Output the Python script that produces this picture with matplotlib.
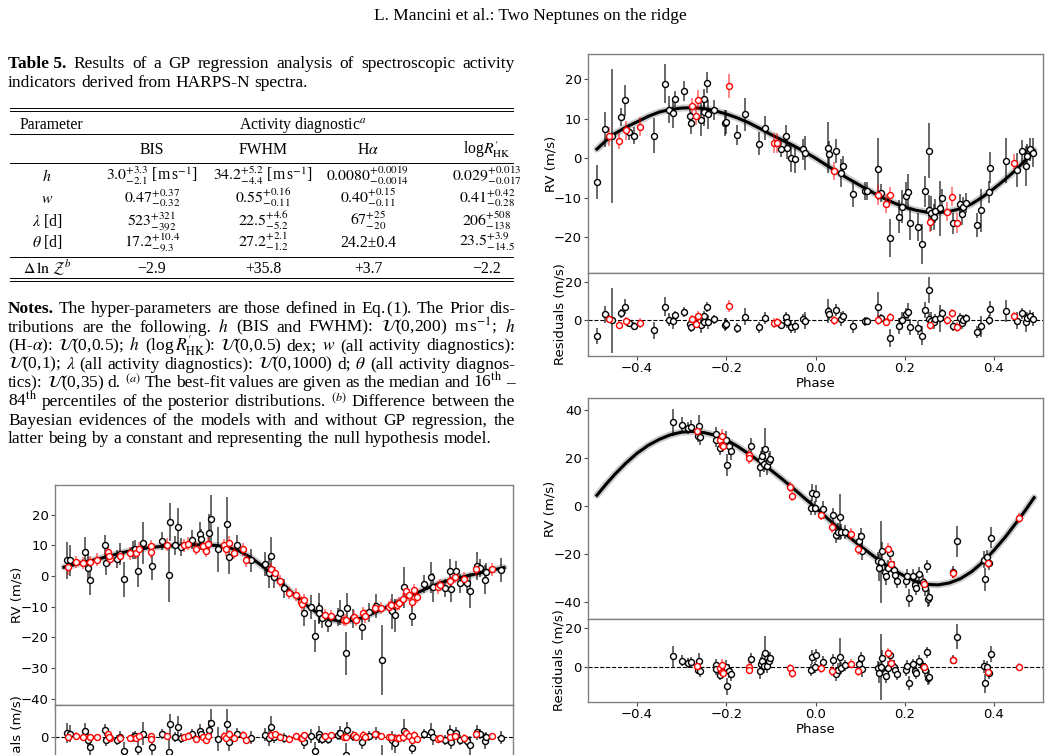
import matplotlib
matplotlib.use("Agg")
import matplotlib.pyplot as plt
from matplotlib.lines import Line2D

plt.rcParams['font.family'] = ['DejaVu Sans']
plt.rcParams['mathtext.fontset'] = 'stix'

# ---------------- page text ----------------
header = "L. Mancini et al.: Two Neptunes on the ridge"
caption_1 = [("Table 5.", "bold"), "Results", "of", "a", "GP", "regression", "analysis", "of",
             "spectroscopic", "activity"]
caption_2 = "indicators derived from HARPS-N spectra."

table_cols = ["BIS", "FWHM", r"H$\alpha$", r"log$R^{\prime}_{\rm HK}$"]
row_labels = [r"$h$", r"$w$", r"$\lambda$ [d]", r"$\theta$ [d]"]
row_h = [r"$3.0^{+3.3}_{-2.1}$ [m$\,$s$^{-1}$]", r"$34.2^{+5.2}_{-4.4}$ [m$\,$s$^{-1}$]",
         r"$0.0080^{+0.0019}_{-0.0014}$", r"$0.029^{+0.013}_{-0.017}$"]
row_w = [r"$0.47^{+0.37}_{-0.32}$", r"$0.55^{+0.16}_{-0.11}$",
         r"$0.40^{+0.15}_{-0.11}$", r"$0.41^{+0.42}_{-0.28}$"]
row_lam = [r"$523^{+321}_{-392}$", r"$22.5^{+4.6}_{-5.2}$",
           r"$67^{+25}_{-20}$", r"$206^{+508}_{-138}$"]
row_theta = [r"$17.2^{+10.4}_{-9.3}$", r"$27.2^{+2.1}_{-1.2}$",
             "24.2±0.4", r"$23.5^{+3.9}_{-14.5}$"]
row_dlnz = ["−2.9", "+35.8", "+3.7", "−2.2"]

notes = [
    [("Notes.", "bold"), "The", "hyper-parameters", "are", "those", "defined", "in", "Eq.$\\,$(1).",
     "The", "Prior", "dis-"],
    ["tributions", "are", "the", "following.", "$h$", "(BIS", "and", "FWHM):",
     r"$\mathcal{U}$(0,200)", r"m$\,$s$^{-1}$;", "$h$"],
    [r"(H-$\alpha$):", r"$\mathcal{U}$(0,0.5);", "$h$", r"(log$\,R^{\prime}_{\rm HK}$):",
     r"$\mathcal{U}$(0,0.5)", "dex;", "$w$", "(all", "activity", "diagnostics):"],
    [r"$\mathcal{U}$(0,1);", r"$\lambda$", "(all", "activity", "diagnostics):",
     r"$\mathcal{U}$(0,1000)", "d;", r"$\theta$", "(all", "activity", "diagnos-"],
    ["tics):", r"$\mathcal{U}$(0,35)", "d.", r"$^{(a)}$", "The", "best-fit", "values", "are",
     "given", "as", "the", "median", "and", r"16$^{\rm th}$", "–"],
    [r"84$^{\rm th}$", "percentiles", "of", "the", "posterior", "distributions.", r"$^{(b)}$",
     "Difference", "between", "the"],
    ["Bayesian", "evidences", "of", "the", "models", "with", "and", "without", "GP",
     "regression,", "the"],
    ["latter", "being", "by", "a", "constant", "and", "representing", "the", "null",
     "hypothesis", "model."],
]

# ---------------- model curves ----------------
model_phase = [-0.49, -0.47, -0.45, -0.425, -0.40, -0.375, -0.35, -0.325, -0.30, -0.275,
               -0.25, -0.225, -0.20, -0.175, -0.15, -0.125, -0.10, -0.075, -0.05, -0.025,
               0.00, 0.025, 0.05, 0.075, 0.10, 0.125, 0.15, 0.175, 0.20, 0.225,
               0.25, 0.275, 0.30, 0.325, 0.35, 0.375, 0.40, 0.425, 0.45, 0.47, 0.49]
a_model_rv = [2.3, 4.4, 6.2, 7.85, 9.2, 10.6, 11.7, 12.35, 12.7, 12.8,
              12.6, 12.0, 11.2, 10.2, 9.0, 7.55, 6.0, 4.6, 3.2, 1.65,
              0.0, -1.8, -3.6, -5.3, -6.9, -8.5, -10.0, -11.3, -12.4, -13.2,
              -13.7, -13.8, -13.5, -12.8, -11.6, -9.8, -7.7, -5.4, -2.9, -0.55, 2.0]
b_model_rv = [4.5, 9.0, 13.2, 17.9, 22.0, 25.3, 27.8, 29.7, 30.8, 31.1,
              30.6, 29.5, 27.6, 24.9, 21.8, 18.5, 15.0, 11.3, 7.4, 3.4,
              -0.6, -4.8, -8.9, -12.8, -16.5, -20.1, -23.5, -26.6, -29.2, -31.3,
              -32.6, -32.8, -32.0, -30.2, -27.3, -23.3, -18.4, -13.0, -6.9, -1.9, 3.5]
c_model_rv = [2.9, 3.6, 4.4, 5.2, 6.1, 7.1, 8.0, 8.7, 9.3, 9.65,
              9.9, 10.1, 10.2, 10.2, 10.0, 9.4, 8.2, 6.15, 3.5, 0.35,
              -3.0, -6.4, -9.5, -12.1, -14.0, -14.7, -14.5, -13.5, -12.0, -10.35,
              -8.6, -6.9, -5.2, -3.55, -2.1, -1.05, -0.2, 0.65, 1.5, 2.15, 2.8]

# ---------------- panel A (top right) ----------------
a_blk_phase = [-0.489, -0.471, -0.457, -0.437, -0.426, -0.418, -0.408, -0.363, -0.337, -0.328,
               -0.319, -0.315, -0.294, -0.281, -0.278, -0.256, -0.251, -0.249, -0.244, -0.240,
               -0.227, -0.202, -0.200, -0.175, -0.157, -0.127, -0.113, -0.078, -0.066, -0.063,
               -0.055, -0.047, -0.028, -0.023, 0.028, 0.031, 0.046, 0.058, 0.061, 0.083,
               0.112, 0.116, 0.141, 0.146, 0.166, 0.187, 0.193, 0.202, 0.207, 0.211,
               0.229, 0.238, 0.246, 0.255, 0.254, 0.260, 0.266, 0.269, 0.278, 0.284,
               0.308, 0.325, 0.328, 0.331, 0.338, 0.362, 0.370, 0.388, 0.392, 0.426,
               0.452, 0.463, 0.472, 0.474, 0.480, 0.487]
a_blk_rv = [-6.0, 7.3, 5.6, 10.4, 14.7, 6.7, 5.7, 5.7, 18.9, 12.3,
            11.5, 14.9, 17.0, 10.7, 9.0, 9.8, 14.9, 11.6, 19.1, 11.1,
            12.2, 8.9, 9.2, 5.8, 11.1, 3.7, 7.7, 2.4, 5.7, 2.7,
            0.0, -0.3, 2.2, 1.2, 2.7, 1.0, 1.8, -3.7, -2.0, -9.0,
            -8.4, -8.4, -2.7, -8.9, -20.2, -14.8, -12.3, -9.5, -8.5, -16.5,
            -17.4, -21.7, -8.4, 1.9, -13.2, -14.0, -14.9, -13.4, -12.7, -10.2,
            -16.5, -11.7, -14.2, -12.3, -11.3, -17.0, -13.2, -8.6, -2.4, -0.7,
            -3.0, 1.9, -2.0, 0.6, 2.2, 1.4]
a_blk_err = [4.3, 4.5, 16.9, 2.3, 3.9, 2.0, 2.1, 4.5, 5.0, 3.4,
             3.8, 2.0, 2.5, 2.9, 2.8, 4.2, 2.6, 3.4, 2.7, 3.6,
             2.5, 3.4, 3.0, 2.5, 4.2, 3.0, 3.1, 2.1, 2.8, 3.0,
             3.5, 3.5, 2.7, 4.3, 6.4, 3.4, 3.1, 3.6, 2.6, 3.4,
             2.3, 2.3, 7.9, 2.3, 4.9, 4.1, 4.2, 3.4, 4.6, 4.2,
             3.6, 5.0, 4.0, 7.0, 3.8, 4.4, 3.4, 3.0, 7.0, 2.5,
             2.7, 2.7, 2.7, 2.5, 2.5, 3.0, 5.5, 2.7, 3.9, 5.7,
             4.2, 2.8, 5.0, 3.0, 2.8, 3.6]
a_blk_res = [-8.4, 3.0, -0.1, 3.4, 7.0, -1.4, -3.0, -5.4, 6.9, 0.1,
             -0.8, 2.5, 4.3, -2.0, -3.7, -2.8, 2.3, -1.0, 6.6, -1.2,
             0.3, -2.4, -2.0, -4.3, 1.8, -3.9, 0.9, -2.4, 1.6, -1.2,
             -3.5, -3.3, 0.4, -0.3, 4.7, 3.2, 5.1, 0.4, 2.3, -3.2,
             -0.8, -0.5, 6.7, 0.9, -9.4, -3.0, -0.2, 3.0, 4.1, -3.8,
             -4.2, -8.3, 5.2, 15.6, 0.5, -0.3, -1.2, 0.3, 0.9, 3.4,
             -3.3, 0.8, -1.8, 0.0, 0.8, -6.3, -3.2, 0.0, 5.9, 4.5,
             -0.3, 3.5, -1.3, 1.1, 2.2, 0.7]

a_red_phase = [-0.463, -0.440, -0.424, -0.394, -0.276, -0.269, -0.264, -0.194, -0.092, -0.086,
               0.041, 0.141, 0.159, 0.168, 0.256, 0.295, 0.307, 0.317, 0.446]
a_red_rv = [5.6, 4.3, 7.1, 8.0, 13.1, 10.7, 14.7, 18.3, 3.9, 3.9,
            -3.2, -9.3, -11.5, -9.4, -16.2, -13.6, -9.8, -16.5, -1.1]
a_red_err = [2.4, 2.1, 2.4, 2.5, 2.1, 2.3, 2.5, 3.0, 2.5, 2.5,
             2.3, 2.5, 2.3, 2.1, 2.5, 2.4, 2.4, 2.5, 2.2]
a_red_res = [0.7, -2.5, -0.7, -1.5, 0.4, -2.0, 2.0, 7.3, -1.6, -1.3,
             -0.2, 0.1, -1.1, 1.5, -2.5, -0.1, 3.4, -3.7, 2.2]

# ---------------- panel B (bottom right) ----------------
b_blk_phase = [-0.320, -0.300, -0.285, -0.279, -0.264, -0.261, -0.258, -0.224, -0.222, -0.213,
               -0.200, -0.198, -0.194, -0.190, -0.145, -0.125, -0.122, -0.120, -0.116, -0.113,
               -0.109, -0.105, -0.102, -0.011, -0.007, 0.001, -0.001, 0.017, 0.040, 0.046,
               0.051, 0.056, 0.058, 0.067, 0.097, 0.102, 0.105, 0.140, 0.142, 0.147,
               0.149, 0.155, 0.158, 0.163, 0.167, 0.176, 0.179, 0.182, 0.202, 0.206,
               0.209, 0.219, 0.222, 0.225, 0.231, 0.241, 0.245, 0.250, 0.252, 0.255,
               0.309, 0.318, 0.377, 0.381, 0.385, 0.390, 0.393]
b_blk_rv = [34.9, 33.9, 32.5, 33.1, 29.2, 33.5, 28.6, 30.0, 27.6, 24.2,
            27.6, 17.2, 24.9, 22.8, 25.1, 16.4, 19.3, 20.7, 17.5, 23.9,
            16.5, 18.6, 19.7, -0.6, 5.6, 5.1, -0.8, -1.0, -3.6, -11.9,
            -10.6, -4.6, -10.6, -10.8, -14.4, -12.4, -18.6, -22.8, -25.6, -23.3,
            -18.9, -27.6, -29.3, -25.8, -19.6, -26.5, -28.6, -31.0, -31.0, -29.3,
            -38.3, -29.3, -32.8, -34.2, -28.2, -31.8, -33.9, -25.1, -38.6, -37.9,
            -27.5, -14.7, -22.4, -30.4, -21.3, -23.5, -13.1]
b_blk_err = [5.6, 3.0, 2.6, 2.8, 2.5, 4.5, 3.2, 3.1, 3.2, 2.8,
             3.5, 4.5, 3.5, 3.5, 3.3, 4.2, 3.5, 3.8, 3.5, 8.7,
             3.5, 3.5, 3.1, 3.0, 3.5, 3.5, 3.0, 3.3, 3.0, 3.5,
             3.5, 9.7, 3.1, 3.0, 3.3, 3.1, 3.8, 3.8, 5.5, 17.0,
             4.0, 3.5, 3.5, 3.5, 3.0, 3.5, 3.5, 3.2, 3.0, 3.0,
             3.8, 3.0, 3.0, 3.0, 3.0, 3.0, 3.5, 2.8, 3.5, 3.5,
             2.5, 6.6, 3.5, 4.8, 3.0, 3.0, 4.2]
b_blk_res = [5.3, 3.1, 1.7, 2.4, -1.5, 2.8, -2.0, 1.0, -1.3, -4.2,
             0.0, -10.2, -2.2, -4.0, 4.0, -2.0, 1.3, 3.0, 0.3, 7.1,
             0.3, 2.9, 4.4, -1.8, 5.1, 5.9, -0.4, 2.4, 3.6, -3.7,
             -1.5, 5.2, -0.5, 0.7, 1.6, 4.4, -1.4, -0.7, -3.2, -0.2,
             4.5, -3.5, -4.9, -0.8, 5.8, 0.0, -1.8, -3.9, -1.7, 0.3,
             -8.5, 1.2, -2.1, -3.3, 3.1, 0.2, -1.6, 7.5, -6.0, -5.4,
             3.7, 15.6, 0.1, -8.6, -0.2, -3.3, 6.6]

b_red_phase = [-0.265, -0.213, -0.209, -0.210, -0.207, -0.148, -0.148, -0.058, -0.053, 0.013,
               0.037, 0.079, 0.096, 0.163, 0.169, 0.243, 0.308, 0.387, 0.457]
b_red_rv = [31.1, 27.6, 29.0, 25.6, 24.9, 21.4, 20.0, 7.9, 4.4, -3.6,
            -8.9, -11.7, -17.9, -17.8, -24.0, -32.5, -27.9, -23.8, -5.0]
b_red_err = [2.1, 2.4, 3.0, 2.5, 2.5, 2.5, 2.5, 2.1, 2.2, 2.3,
             2.4, 2.4, 2.6, 2.5, 2.5, 2.4, 2.1, 2.1, 2.1]
b_red_res = [0.4, -0.8, 0.9, -2.6, -3.1, -0.1, -1.5, -0.7, -3.5, -0.8,
             -2.2, 1.6, -2.0, 7.2, 1.7, -0.4, 3.4, -3.0, -0.1]

# ---------------- panel C (bottom left) ----------------
c_blk_phase = [-0.484, -0.476, -0.443, -0.436, -0.432, -0.399, -0.397, -0.372, -0.365, -0.357,
               -0.336, -0.332, -0.325, -0.314, -0.295, -0.272, -0.257, -0.254, -0.242, -0.235,
               -0.229, -0.206, -0.186, -0.184, -0.167, -0.163, -0.147, -0.128, -0.123, -0.105,
               -0.074, -0.043, -0.034, -0.028, -0.023, 0.001, 0.045, 0.061, 0.070, 0.077,
               0.079, 0.085, 0.098, 0.120, 0.124, 0.137, 0.140, 0.153, 0.174, 0.190,
               0.206, 0.219, 0.240, 0.248, 0.267, 0.284, 0.311, 0.328, 0.331, 0.359,
               0.370, 0.373, 0.383, 0.391, 0.407, 0.414, 0.430, 0.436, 0.447, 0.450,
               0.484]
c_blk_rv = [5.2, 5.2, 7.9, 2.8, -1.1, 10.0, 4.3, 5.5, 7.2, -1.0,
            8.5, 8.7, 1.7, 10.8, 3.3, 11.4, 0.5, 17.5, 10.0, 16.0,
            9.5, 11.9, 13.7, 12.0, 14.2, 18.5, 8.7, 17.1, 6.1, 10.0,
            5.2, 3.9, 0.9, 6.7, -0.4, -4.0, -12.1, -10.0, -19.5, -10.5,
            -12.1, -13.8, -15.4, -13.4, -11.9, -25.2, -10.5, -13.8, -16.5, -11.8,
            -9.8, -27.3, -11.4, -12.7, -3.7, -13.0, -2.6, -0.4, -3.7, -3.8,
            1.7, -4.3, 1.7, -2.4, -2.4, -4.8, 3.4, 2.7, -1.1, 1.4,
            2.0]
c_blk_err = [6.0, 5.0, 4.9, 4.6, 5.1, 3.5, 3.8, 3.0, 3.5, 5.7,
             3.0, 3.0, 5.2, 6.8, 4.6, 3.0, 9.0, 6.2, 3.0, 6.2,
             3.0, 3.0, 4.0, 3.5, 6.2, 8.0, 7.3, 8.7, 5.4, 3.5,
             3.8, 4.0, 4.9, 6.2, 3.5, 3.0, 4.0, 4.0, 5.1, 4.9,
             3.5, 3.0, 2.7, 3.0, 4.0, 7.0, 4.9, 3.0, 4.3, 3.0,
             4.0, 11.4, 5.7, 5.4, 6.8, 3.3, 3.0, 5.1, 4.6, 3.0,
             4.0, 4.0, 3.3, 3.0, 3.0, 5.7, 4.6, 3.0, 4.6, 3.0,
             4.0]
c_blk_res = [2.1, 1.8, 3.2, -2.1, -6.1, 3.9, -1.9, -1.7, -0.2, -8.7,
             0.1, 0.2, -7.0, 1.9, -6.1, 1.8, -9.3, 7.7, 0.1, 6.0,
             -0.5, 1.7, 3.6, 1.9, 4.1, 8.4, -1.3, 7.8, -3.0, 1.6,
             -0.6, 1.3, -0.5, 6.1, -0.4, -0.9, -3.3, 0.5, -8.2, 1.4,
             0.0, -1.2, -1.6, 0.8, 2.3, -10.8, 3.9, 0.6, -3.2, 0.7,
             1.8, -16.6, -2.1, -4.0, 3.7, -6.7, 1.9, 3.1, -0.4, -2.0,
             3.0, -3.1, 2.5, -1.9, -2.4, -5.1, 2.6, 1.7, -2.5, -0.1,
             -0.6]

c_red_phase = [-0.480, -0.463, -0.447, -0.432, -0.416, -0.392, -0.388, -0.390, -0.365, -0.344,
               -0.329, -0.324, -0.296, -0.296, -0.261, -0.222, -0.213, -0.195, -0.181, -0.173,
               -0.170, -0.134, -0.130, -0.123, -0.112, -0.091, -0.085, -0.030, -0.019, -0.009,
               0.011, 0.026, 0.037, 0.040, 0.044, 0.091, 0.105, 0.133, 0.137, 0.157,
               0.161, 0.175, 0.181, 0.203, 0.217, 0.233, 0.239, 0.251, 0.255, 0.264,
               0.271, 0.279, 0.284, 0.290, 0.296, 0.343, 0.348, 0.370, 0.380, 0.400,
               0.427, 0.464]
c_red_rv = [3.0, 4.6, 4.3, 4.6, 5.4, 7.9, 5.7, 6.5, 6.5, 7.4,
            7.6, 9.0, 9.8, 7.9, 10.3, 10.0, 10.6, 9.0, 9.8, 8.2,
            10.6, 10.1, 8.7, 10.8, 7.6, 8.7, 5.2, 2.2, 1.1, -1.7,
            -5.6, -6.0, -8.5, -9.1, -7.8, -12.7, -13.0, -14.3, -14.3, -13.2,
            -14.3, -12.1, -13.0, -10.3, -10.3, -10.0, -9.4, -9.4, -8.9, -7.6,
            -4.9, -6.2, -8.4, -4.6, -6.7, -3.7, -2.9, -1.6, -0.4, -0.8,
            2.2, 2.2]
c_red_err = [2.5, 2.0, 2.0, 2.1, 2.0, 2.2, 2.2, 2.0, 2.0, 2.0,
             2.0, 2.1, 2.0, 2.0, 2.0, 2.0, 2.2, 2.0, 2.0, 2.0,
             2.1, 2.0, 2.0, 2.2, 2.0, 2.0, 2.1, 2.0, 2.0, 2.0,
             2.0, 2.1, 2.0, 2.2, 2.0, 2.0, 2.0, 2.1, 2.0, 2.0,
             2.0, 2.0, 2.2, 2.0, 2.0, 2.0, 2.0, 2.1, 2.0, 2.0,
             2.2, 2.0, 2.0, 2.0, 2.1, 2.0, 2.0, 2.0, 2.0, 2.0,
             2.0, 2.0]
c_red_res = [-0.2, 0.7, -0.2, -0.4, -0.2, 1.5, -0.9, 0.0, -0.9, -0.8,
             -1.0, 0.3, 0.4, -1.5, 0.5, -0.1, 0.5, -1.2, -0.3, -1.9,
             0.5, 0.6, -0.7, 1.7, -1.0, 1.2, -1.7, 1.3, 1.6, 0.1,
             -1.2, 0.4, -0.7, -0.9, 0.9, 0.5, 1.1, 0.0, 0.1, 1.0,
             -0.3, 1.2, 0.0, 1.5, 0.5, -0.2, -0.1, -0.9, -0.6, 0.0,
             2.3, 0.4, -2.1, 1.3, -1.2, -1.2, -0.7, -0.3, 0.5, -0.6,
             1.5, 0.2]

# ---------------- figure ----------------
W, H = 1053, 755
fig = plt.figure(figsize=(W / 100, H / 100), dpi=100)
SERIF = ['Liberation Serif', 'DejaVu Serif']
renderer = fig.canvas.get_renderer()


def fx(x):
    return x / W


def fy(y):
    return 1 - y / H


def page_text(x, y, s, size, ha='left', weight='normal'):
    return fig.text(fx(x), fy(y), s, fontsize=size, ha=ha, va='baseline',
                    fontfamily=SERIF, fontweight=weight)


def text_line(words, y, size, x0=8, x1=515, justify=True):
    items = []
    for w in words:
        weight = 'normal'
        if isinstance(w, tuple):
            w, weight = w
        items.append(page_text(0, y, w, size, weight=weight))
    widths = [t.get_window_extent(renderer).width for t in items]
    if justify:
        gap = (x1 - x0 - sum(widths)) / (len(items) - 1)
    else:
        gap = 0.25 * size * 100 / 72
    x = x0
    for t, wd in zip(items, widths):
        t.set_x(fx(x))
        x += wd + gap


def hrule(y, x0=10, x1=513):
    fig.add_artist(Line2D([fx(x0), fx(x1)], [fy(y), fy(y)], color='k', lw=0.7))


# header and caption
page_text(530, 20, header, 12.5, ha='center')
text_line(caption_1, 68, 12.5)
text_line(caption_2.split(), 87, 12.5, justify=False)

# table
for y in (108, 111, 134, 163, 257, 278, 281):
    hrule(y)
TS = 11.3
col_x = [152, 263, 368, 487]
page_text(20, 129, "Parameter", TS)
page_text(303, 129, r"Activity diagnostic$^{a}$", TS, ha='center')
for cx, s in zip(col_x, table_cols):
    page_text(cx, 154, s, TS, ha='center')
row_y = [181, 203, 226, 247]
for ry, lab, vals in zip(row_y, row_labels, [row_h, row_w, row_lam, row_theta]):
    page_text(47, ry, lab, TS, ha='center')
    for cx, s in zip(col_x, vals):
        page_text(cx, ry, s, TS, ha='center')
page_text(47, 273, r"$\Delta\,\ln\,\mathcal{Z}^{b}$", TS, ha='center')
for cx, s in zip(col_x, row_dlnz):
    page_text(cx, 273, s, TS, ha='center')

# notes
for i, words in enumerate(notes):
    text_line(words, 313 + 18.6 * i, 12.5, justify=(i < len(notes) - 1))


# ---------------- RV panels ----------------
def rect(left, top, right, bottom):
    return [fx(left), fy(bottom), fx(right) - fx(left), fy(top) - fy(bottom)]


def style(ax):
    for sp in ax.spines.values():
        sp.set_color('0.5')
        sp.set_linewidth(1.0)
    ax.tick_params(labelsize=9.5, color='0.3', length=3, pad=1.5)


def points(ax, x, y, e, color, ealpha):
    eb = ax.errorbar(x, y, yerr=e, fmt='none', ecolor=color, elinewidth=1.1, zorder=3)
    eb[2][0].set_alpha(ealpha)
    ax.plot(x, y, 'o', ms=4.3, mfc='white', mec=color, mew=1.0, zorder=4)


def rv_panel(top_box, res_box, my, blk, red, ylim, yticks, rlim, lab_x, res_lab_x):
    ax = fig.add_axes(rect(*top_box))
    axr = fig.add_axes(rect(*res_box), sharex=ax)
    ax.plot(model_phase, my, color='0.55', lw=5, alpha=0.45, zorder=2,
            solid_capstyle='round')
    ax.plot(model_phase, my, color='k', lw=2.2, zorder=2)
    bx, by, be, br = blk
    rx, ry, re, rr = red
    points(ax, bx, by, be, 'k', 0.75)
    points(ax, rx, ry, re, 'red', 0.6)
    points(axr, bx, br, be, 'k', 0.75)
    points(axr, rx, rr, re, 'red', 0.6)
    axr.axhline(0, color='k', ls='--', lw=0.8, zorder=1)
    ax.set_yticks(yticks)
    axr.set_yticks([-20, 0, 20])
    axr.set_xticks([-0.4, -0.2, 0.0, 0.2, 0.4])
    ax.set_xlim(-0.51, 0.51)
    ax.set_ylim(*ylim)
    axr.set_ylim(*rlim)
    ax.tick_params(labelbottom=False)
    ax.set_ylabel("RV (m/s)", fontsize=9.5)
    axr.set_ylabel("Residuals (m/s)", fontsize=9.5)
    ax.yaxis.set_label_coords(lab_x, 0.5)
    axr.yaxis.set_label_coords(res_lab_x, 0.5)
    axr.set_xlabel("Phase", fontsize=9.5, labelpad=1)
    style(ax)
    style(axr)
    return ax, axr


rv_panel((588, 54, 1043, 273), (588, 273, 1043, 356), a_model_rv,
         (a_blk_phase, a_blk_rv, a_blk_err, a_blk_res),
         (a_red_phase, a_red_rv, a_red_err, a_red_res),
         (-29.1, 26.4), [-20, -10, 0, 10, 20], (-18.8, 24.5), -0.068, -0.047)

rv_panel((588, 398, 1043, 619), (588, 619, 1043, 702), b_model_rv,
         (b_blk_phase, b_blk_rv, b_blk_err, b_blk_res),
         (b_red_phase, b_red_rv, b_red_err, b_red_res),
         (-47.0, 45.0), [-40, -20, 0, 20, 40], (-18.3, 24.7), -0.070, -0.050)

rv_panel((55, 485, 513, 705), (55, 705, 513, 787), c_model_rv,
         (c_blk_phase, c_blk_rv, c_blk_err, c_blk_res),
         (c_red_phase, c_red_rv, c_red_err, c_red_res),
         (-42.0, 29.7), [-40, -30, -20, -10, 0, 10, 20], (-30.0, 19.0), -0.069, -0.069)

fig.savefig("out.png", dpi=100)
